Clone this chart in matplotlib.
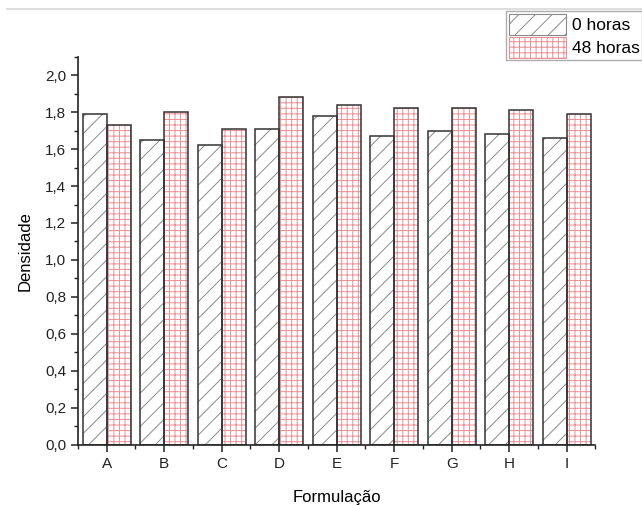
import matplotlib
matplotlib.use("Agg")
import matplotlib.pyplot as plt
from matplotlib.ticker import MultipleLocator, FuncFormatter
import numpy as np

plt.rcParams['font.family'] = ['Liberation Sans', 'DejaVu Sans']
plt.rcParams['hatch.linewidth'] = 0.7

# data
categorias = ['A', 'B', 'C', 'D', 'E', 'F', 'G', 'H', 'I']
horas_0 = [1.79, 1.65, 1.62, 1.71, 1.78, 1.67, 1.70, 1.68, 1.66]
horas_48 = [1.73, 1.80, 1.71, 1.88, 1.84, 1.82, 1.82, 1.81, 1.79]
rotulos = ['0 horas', '48 horas']

fig = plt.figure(figsize=(6.42, 5.05), dpi=100)
ax = fig.add_axes([0.1215, 0.119, 0.806, 0.769])

x = np.arange(len(categorias))
w = 0.42
edge = '#333333'

b0 = ax.bar(x - w / 2, horas_0, w, color='white', edgecolor='#8a8a8a',
            hatch='//', linewidth=0, label=rotulos[0])
b48 = ax.bar(x + w / 2, horas_48, w, color='white', edgecolor='#eb8f95',
             hatch='+++', linewidth=0, label=rotulos[1])
# outlines on top of the hatches
ax.bar(x - w / 2, horas_0, w, fill=False, edgecolor=edge, linewidth=1.1)
ax.bar(x + w / 2, horas_48, w, fill=False, edgecolor=edge, linewidth=1.1)

ax.set_xlim(-0.5, 8.5)
ax.set_ylim(0, 2.1)
ax.set_xticks(x)
ax.set_xticklabels(categorias)
ax.xaxis.set_minor_locator(MultipleLocator(1, offset=0.5))
ax.yaxis.set_major_locator(MultipleLocator(0.2))
ax.yaxis.set_minor_locator(MultipleLocator(0.1))
ax.yaxis.set_major_formatter(FuncFormatter(lambda v, p: f'{v:.1f}'.replace('.', ',')))

for s in ['top', 'right']:
    ax.spines[s].set_visible(False)
for s in ['left', 'bottom']:
    ax.spines[s].set_color('#222222')
    ax.spines[s].set_linewidth(1.2)

ax.tick_params(which='major', length=5, width=1.1, color='#222222',
               labelsize=11, labelcolor='#222222')
ax.tick_params(which='minor', length=3, width=1.0, color='#222222')

ax.set_ylabel('Densidade', fontsize=12, labelpad=9)
ax.set_xlabel('Formulação', fontsize=12, labelpad=14)

leg = fig.legend(handles=[b0, b48], loc='upper right', bbox_to_anchor=(1.0, 0.978),
                 fontsize=12.5, frameon=True, fancybox=False, handlelength=3.3,
                 handleheight=1.5, labelspacing=0.1, borderpad=0.15,
                 handletextpad=0.3, borderaxespad=0)
leg.get_frame().set_edgecolor('#999999')
leg.get_frame().set_linewidth(1.0)
for h in leg.legend_handles:
    h.set_linewidth(0.8)

# light rule across the top of the picture
fig.add_artist(plt.Line2D([0.011, 1.0], [0.982, 0.982], color='#dddddd', lw=1.5))

fig.savefig('out.png', dpi=100)
